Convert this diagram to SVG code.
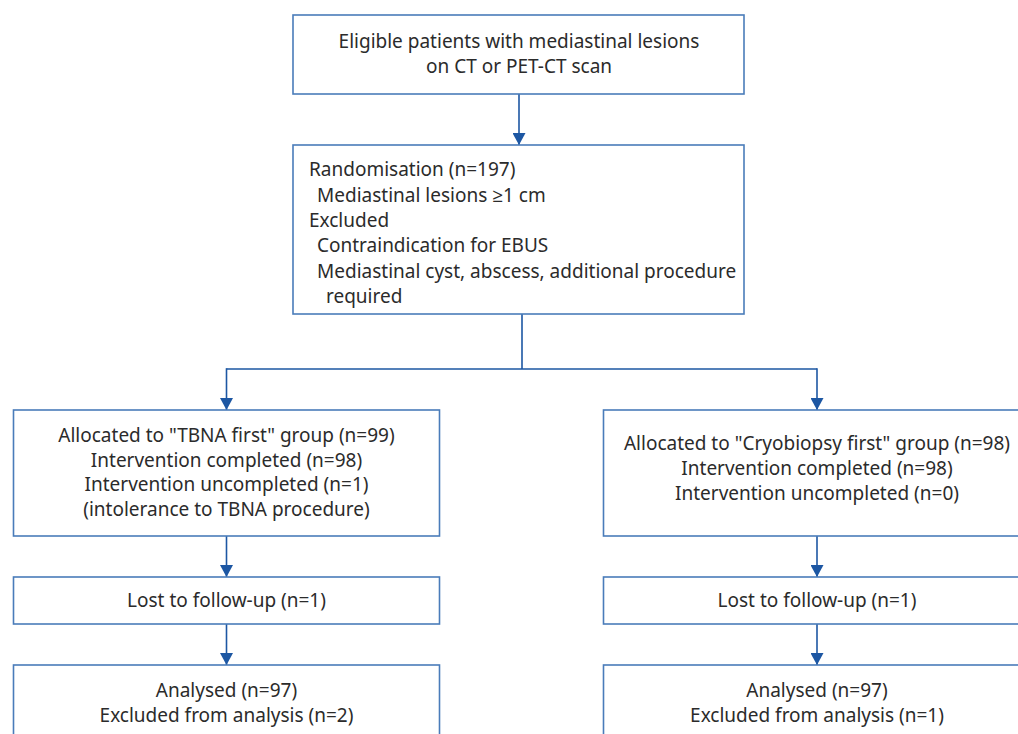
<svg xmlns="http://www.w3.org/2000/svg" width="1018" height="734" viewBox="0 0 1018 734">
<defs>
<style>
.box{fill:#fff;stroke:#4a7cba;stroke-width:1.6}
.t{font-family:"Noto Sans","Open Sans",sans-serif;font-size:19px;fill:#2b2b2b}
.c{text-anchor:middle}
.ln{fill:none;stroke:#1d57a3;stroke-width:1.6}
</style>
<marker id="ah" markerUnits="userSpaceOnUse" markerWidth="14" markerHeight="13" refX="12" refY="6.5" orient="auto">
<path d="M0,0 L12,6.5 L0,13 Z" fill="#1d57a3"/>
</marker>
</defs>
<rect width="1018" height="734" fill="#fff"/>
<g id="connectors">
<path class="ln" d="M519,94 V145" marker-end="url(#ah)"/>
<path class="ln" d="M522,314 V369 M226.5,369 H817"/>
<path class="ln" d="M226.5,368.2 V410" marker-end="url(#ah)"/>
<path class="ln" d="M817,368.2 V410" marker-end="url(#ah)"/>
<path class="ln" d="M226.5,536 V577" marker-end="url(#ah)"/>
<path class="ln" d="M817,536 V577" marker-end="url(#ah)"/>
<path class="ln" d="M226.5,624 V665" marker-end="url(#ah)"/>
<path class="ln" d="M817,624 V665" marker-end="url(#ah)"/>
</g>
<g id="eligible">
<rect class="box" x="293" y="15" width="451" height="79"/>
<text class="t c" x="519" y="48">Eligible patients with mediastinal lesions</text>
<text class="t c" x="519" y="73">on CT or PET-CT scan</text>
</g>
<g id="randomisation">
<rect class="box" x="293" y="145" width="451" height="169"/>
<text class="t" x="309" y="176">Randomisation (n=197)</text>
<text class="t" x="317" y="202">Mediastinal lesions ≥1 cm</text>
<text class="t" x="309" y="227">Excluded</text>
<text class="t" x="317" y="252">Contraindication for EBUS</text>
<text class="t" x="317" y="278">Mediastinal cyst, abscess, additional procedure</text>
<text class="t" x="326" y="303">required</text>
</g>
<g id="alloc-tbna">
<rect class="box" x="13.5" y="410" width="426" height="126"/>
<text class="t c" x="226.5" y="442">Allocated to "TBNA first" group (n=99)</text>
<text class="t c" x="226.5" y="467">Intervention completed (n=98)</text>
<text class="t c" x="226.5" y="491">Intervention uncompleted (n=1)</text>
<text class="t c" x="226.5" y="516">(intolerance to TBNA procedure)</text>
</g>
<g id="alloc-cryo">
<rect class="box" x="603.5" y="410" width="427" height="126"/>
<text class="t c" x="817" y="450">Allocated to "Cryobiopsy first" group (n=98)</text>
<text class="t c" x="817" y="475">Intervention completed (n=98)</text>
<text class="t c" x="817" y="500">Intervention uncompleted (n=0)</text>
</g>
<g id="lost-tbna">
<rect class="box" x="13.5" y="577" width="426" height="47"/>
<text class="t c" x="226.5" y="607">Lost to follow-up (n=1)</text>
</g>
<g id="lost-cryo">
<rect class="box" x="603.5" y="577" width="427" height="47"/>
<text class="t c" x="817" y="607">Lost to follow-up (n=1)</text>
</g>
<g id="analysed-tbna">
<rect class="box" x="13.5" y="665" width="426" height="90"/>
<text class="t c" x="226.5" y="697">Analysed (n=97)</text>
<text class="t c" x="226.5" y="722">Excluded from analysis (n=2)</text>
</g>
<g id="analysed-cryo">
<rect class="box" x="603.5" y="665" width="427" height="90"/>
<text class="t c" x="817" y="697">Analysed (n=97)</text>
<text class="t c" x="817" y="722">Excluded from analysis (n=1)</text>
</g>
</svg>
